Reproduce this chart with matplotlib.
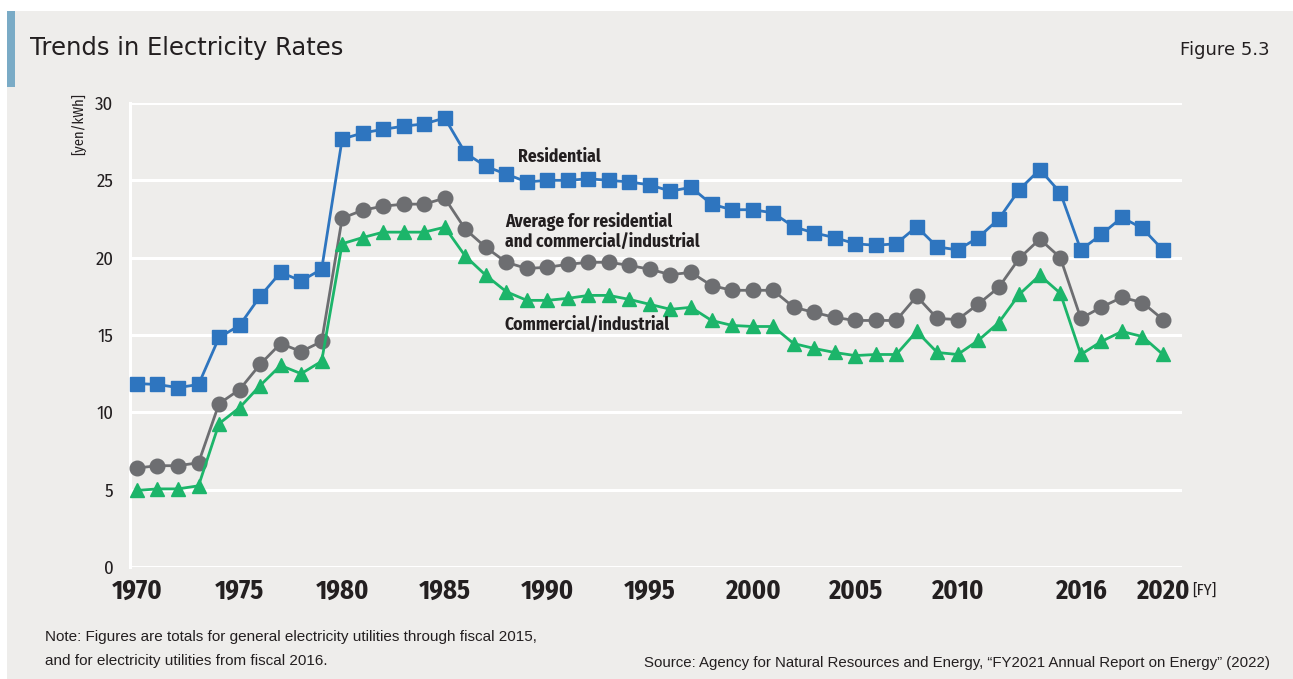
import matplotlib
matplotlib.use("Agg")
import matplotlib.pyplot as plt
from matplotlib.patches import Rectangle

years = list(range(1970, 2021))

residential = [11.86, 11.80, 11.60, 11.80, 14.84, 15.62, 17.50, 19.05, 18.50, 19.25,
               27.67, 28.06, 28.30, 28.50, 28.65, 29.03, 26.77, 25.90, 25.40, 24.90,
               25.00, 25.00, 25.10, 25.00, 24.90, 24.70, 24.30, 24.55, 23.46, 23.10,
               23.10, 22.90, 22.00, 21.60, 21.30, 20.90, 20.80, 20.90, 22.00, 20.70,
               20.50, 21.30, 22.50, 24.40, 25.70, 24.20, 20.50, 21.50, 22.60, 21.90,
               20.50]

average = [6.40, 6.55, 6.55, 6.74, 10.56, 11.47, 13.10, 14.45, 13.93, 14.58,
           22.55, 23.07, 23.33, 23.46, 23.46, 23.85, 21.84, 20.67, 19.70, 19.30,
           19.38, 19.57, 19.70, 19.70, 19.50, 19.25, 18.90, 19.05, 18.20, 17.89,
           17.89, 17.89, 16.80, 16.46, 16.14, 15.94, 15.94, 15.94, 17.50, 16.07,
           16.00, 17.00, 18.08, 19.96, 21.20, 20.00, 16.07, 16.80, 17.43, 17.10,
           16.00]

commercial = [4.95, 5.05, 5.05, 5.25, 9.27, 10.30, 11.73, 13.03, 12.50, 13.30,
              20.90, 21.30, 21.65, 21.65, 21.65, 21.97, 20.10, 18.86, 17.80, 17.24,
              17.24, 17.37, 17.56, 17.56, 17.30, 16.98, 16.66, 16.79, 15.94, 15.62,
              15.55, 15.55, 14.45, 14.13, 13.87, 13.67, 13.74, 13.74, 15.23, 13.87,
              13.74, 14.65, 15.80, 17.63, 18.86, 17.70, 13.74, 14.58, 15.23, 14.90,
              13.74]

x_ticks = [1970, 1975, 1980, 1985, 1990, 1995, 2000, 2005, 2010, 2016, 2020]
y_ticks = [0, 5, 10, 15, 20, 25, 30]

BG = "#eeedeb"
BLUE = "#2e75bf"
GRAY = "#6d6e71"
GREEN = "#1cb56a"
TEXT = "#231f20"
COND = ["Fira Sans Condensed", "DejaVu Sans"]
BODY = ["Liberation Sans", "DejaVu Sans"]

fig = plt.figure(figsize=(12.93, 6.79), dpi=100)
fig.patch.set_facecolor("white")

W, H = 1293, 679
# grey panel and the blue tab beside the title
fig.patches.append(Rectangle((7 / W, 0), 1 - 7 / W, 1 - 11 / H, transform=fig.transFigure,
                             facecolor=BG, edgecolor="none", zorder=-10))
fig.patches.append(Rectangle((7 / W, 1 - 87 / H), 8 / W, 76 / H, transform=fig.transFigure,
                             facecolor="#7aabc6", edgecolor="none", zorder=-9))

ax = fig.add_axes([130 / W, 1 - 567 / H, 1052 / W, 464 / H])
ax.set_facecolor(BG)

ax.plot(years, residential, color=BLUE, lw=2, marker="s", ms=10, zorder=3, clip_on=False)
ax.plot(years, average, color=GRAY, lw=2, marker="o", ms=10.5, zorder=3, clip_on=False)
ax.plot(years, commercial, color=GREEN, lw=2, marker="^", ms=10, zorder=3, clip_on=False)

ax.set_xlim(1969.66, 2020.93)
ax.set_ylim(0, 30)
ax.set_yticks(y_ticks)
ax.set_xticks(x_ticks)
ax.grid(axis="y", color="white", lw=2.2, zorder=1)
ax.set_axisbelow(True)
for side in ["top", "right", "bottom"]:
    ax.spines[side].set_visible(False)
ax.spines["left"].set_color("white")
ax.spines["left"].set_linewidth(2.2)
ax.tick_params(length=0)
ax.tick_params(axis="y", pad=12)
ax.tick_params(axis="x", pad=8)
for lab in ax.get_yticklabels():
    lab.set_fontfamily(COND)
    lab.set_fontsize(13.5)
    lab.set_color(TEXT)
for lab in ax.get_xticklabels():
    lab.set_fontfamily(COND)
    lab.set_fontsize(19)
    lab.set_fontweight("bold")
    lab.set_color(TEXT)

fig.text(1192 / W, 1 - 590 / H, "[FY]", fontsize=11.5,
         family=COND, color=TEXT, ha="left", va="center")
fig.text(80 / W, 1 - 93 / H, "[yen/kWh]", rotation=90, fontsize=10.5, family=COND,
         color=TEXT, ha="center", va="top")

ax.text(1988.57, 26.5, "Residential", fontsize=12.6, fontweight="bold", family=COND,
        color=TEXT, ha="left", va="center")
ax.text(1987.93, 21.7, "Average for residential\nand commercial/industrial", fontsize=12.6,
        fontweight="bold", family=COND, color=TEXT, ha="left", va="center", linespacing=1.12)
ax.text(1987.93, 15.68, "Commercial/industrial", fontsize=12.6, fontweight="bold",
        family=COND, color=TEXT, ha="left", va="center")

fig.text(30 / W, 1 - 48 / H, "Trends in Electricity Rates", fontsize=17.5, color=TEXT,
         ha="left", va="center")
fig.text(1270 / W, 1 - 50 / H, "Figure 5.3", fontsize=13, color=TEXT,
         ha="right", va="center")

fig.text(45 / W, 1 - 637 / H, "Note: Figures are totals for general electricity utilities through fiscal 2015,",
         fontsize=11, family=BODY, color=TEXT, ha="left", va="center")
fig.text(45 / W, 1 - 661 / H, "and for electricity utilities from fiscal 2016.",
         fontsize=11, family=BODY, color=TEXT, ha="left", va="center")
fig.text(1270 / W, 1 - 663 / H,
         "Source: Agency for Natural Resources and Energy, \u201cFY2021 Annual Report on Energy\u201d (2022)",
         fontsize=10.8, family=BODY, color=TEXT, ha="right", va="center")

fig.savefig("out.png", dpi=100, facecolor=fig.get_facecolor())
